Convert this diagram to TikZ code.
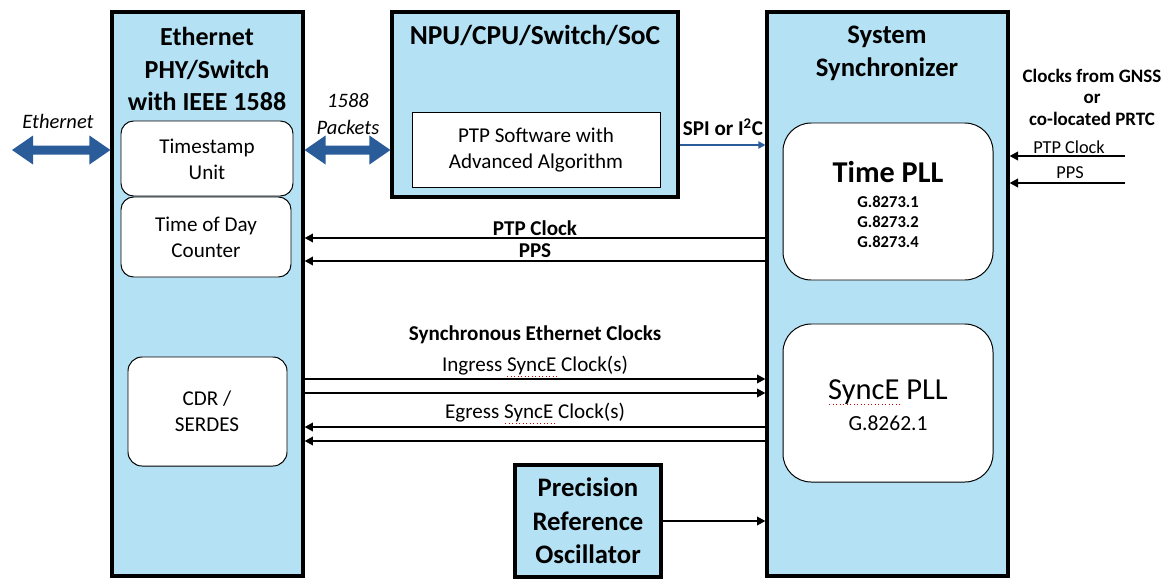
\documentclass[tikz,border=0pt]{standalone}
\usepackage{fontspec}
\setmainfont{Carlito}
\usetikzlibrary{arrows.meta,fit,calc}
\definecolor{lb}{HTML}{B4E1F4}
\definecolor{db}{HTML}{2B5C9A}
\newcommand{\fs}[2]{\fontsize{#1}{#2}\selectfont}
\newcommand{\fatarrow}[2]{%
  \fill[db] (#1) -- ($(#1)+(21,-14.5)$) -- ($(#1)+(21,-4.5)$) -- ($(#2)+(-21,-4.5)$)
   -- ($(#2)+(-21,-14.5)$) -- (#2) -- ($(#2)+(-21,14.5)$) -- ($(#2)+(-21,4.5)$)
   -- ($(#1)+(21,4.5)$) -- ($(#1)+(21,14.5)$) -- cycle;}
\tikzset{
  x=0.025cm, y=-0.025cm,
  blockbox/.style={draw=black, line width=2.2pt, fill=lb, inner sep=0pt},
  ibox/.style={draw=black, line width=0.7pt, fill=white, inner sep=0pt, rounded corners=#1},
  ibox/.default=9pt,
  sqbox/.style={draw=black, line width=0.7pt, fill=white, inner sep=0pt},
  conn/.style={draw=black, line width=1.8pt, -{Triangle[length=6pt,width=6pt]}},
  bconn/.style={draw=db, line width=1.3pt, -{Triangle[length=5pt,width=5pt]}},
  title/.style={font=\bfseries\fs{18.5}{23.2}, align=center, inner sep=0pt},
  body/.style={font=\fs{15}{18.5}, align=center, inner sep=0pt},
  lbl/.style={font=\bfseries\fs{15}{18}, inner sep=0pt},
  squiggle/.style={draw=red!80!black, line width=0.5pt, dotted},
}
\begin{document}
\begin{tikzpicture}
\useasboundingbox (0,0) rectangle (1168,586);

% main blocks
\node[blockbox, fit={(112,12) (303,576)}] (eth) {};
\node[blockbox, fit={(392,12) (678,197)}] (npu) {};
\node[blockbox, fit={(767,12) (1008,576)}] (sync) {};
\node[blockbox, fit={(515,465) (661,577)}] (pro) {};

% inner boxes
\node[ibox, fit={(121,121) (293,196)}] (ts) {};
\node[ibox, fit={(121,197) (291,277)}] (tod) {};
\node[ibox=10pt, fit={(128,357) (287,466)}] (cdr) {};
\node[sqbox, fit={(412,112) (660,187)}] (ptp) {};
\node[ibox=20pt, fit={(783,123) (993,280)}] (tpll) {};
\node[ibox=20pt, fit={(783,324) (993,482)}] (spll) {};

% titles
\node[title] (ethT) at (207,69) {Ethernet\\PHY/Switch\\with IEEE 1588};
\node[title, font=\bfseries\fs{19.5}{23}] (npuT) at (535,35) {NPU/CPU/Switch/SoC};
\node[title, font=\bfseries\fs{19}{23.5}] (syncT) at (887,53) {System\\Synchronizer};
\node[title, font=\bfseries\fs{19}{23.8}] (proT) at (588,521) {Precision\\Reference\\Oscillator};

% inner texts
\node[body] (tsT) at (207,159) {Timestamp\\Unit};
\node[body] (todT) at (206,237) {Time of Day\\Counter};
\node[body] (cdrT) at (207,411) {CDR /\\SERDES};
\node[body] (ptpT) at (536,150) {PTP Software with\\Advanced Algorithm};
\node[font=\bfseries\fs{21.5}{24}, inner sep=0pt] (tpllT) at (888,172) {Time PLL};
\node[font=\bfseries\fs{11.8}{14.2}, align=center, inner sep=0pt] (tpllG) at (888,222) {G.8273.1\\G.8273.2\\G.8273.4};
\node[font=\fs{21.7}{24}, inner sep=0pt] (spllT) at (888,392) {SyncE PLL};
\node[font=\fs{15.3}{18}, inner sep=0pt] (spllG) at (888,423) {G.8262.1};

% external labels
\node[font=\itshape\fs{14.6}{18}, inner sep=0pt] (ethL) at (58,121) {Ethernet};
\node[font=\itshape\fs{14.6}{19}, align=center, inner sep=0pt] (pkL) at (348,114) {1588\\Packets};
\node[font=\bfseries\fs{13.5}{15.3}, align=center, inner sep=0pt] (gnss) at (1092,97) {Clocks from GNSS\\or\\co-located PRTC};
\node[font=\fs{13}{15}, inner sep=0pt] (inPTP) at (1069,147) {PTP Clock};
\node[font=\fs{13}{15}, inner sep=0pt] (inPPS) at (1070,173) {PPS};
\node[lbl] (spi) at (723,127) {SPI or I\textsuperscript{2}C};
\node[lbl] (ptpC) at (535,228) {PTP Clock};
\node[lbl] (pps) at (535,251) {PPS};
\node[lbl] (sec) at (535,335) {Synchronous Ethernet Clocks};
\node[body] (ing) at (535,366) {Ingress SyncE Clock(s)};
\node[body] (egr) at (535,413) {Egress SyncE Clock(s)};

% spell-check underlines under "SyncE"
\draw[squiggle] (507,376) -- (557,376);
\draw[squiggle] (505,423) -- (555,423);
\draw[squiggle] (829,404) -- (901,404);

% fat bidirectional arrows
\coordinate (ethEnd) at (12,150);
\coordinate (ethIn) at (eth.west |- ethEnd);
\coordinate (pkA) at (eth.east |- ethEnd);
\coordinate (pkB) at (npu.west |- ethEnd);
\fatarrow{ethEnd}{ethIn}
\fatarrow{pkA}{pkB}

% SPI
\draw[bconn] (npu.east |- 0,145) -- (sync.west |- 0,145);

% PTP clock / PPS to PHY
\draw[conn] (sync.west |- 0,238) -- (eth.east |- 0,238);
\draw[conn] (sync.west |- 0,261) -- (eth.east |- 0,261);

% SyncE clocks
\draw[conn] (eth.east |- 0,379) -- (sync.west |- 0,379);
\draw[conn] (eth.east |- 0,393) -- (sync.west |- 0,393);
\draw[conn] (sync.west |- 0,427) -- (eth.east |- 0,427);
\draw[conn] (sync.west |- 0,441) -- (eth.east |- 0,441);

% oscillator
\draw[conn] (pro.east |- 0,521) -- (sync.west |- 0,521);

% external inputs
\coordinate (in1) at (1125,156);
\coordinate (in2) at (1125,183);
\draw[conn] (in1) -- (sync.east |- in1);
\draw[conn] (in2) -- (sync.east |- in2);
\end{tikzpicture}
\end{document}
